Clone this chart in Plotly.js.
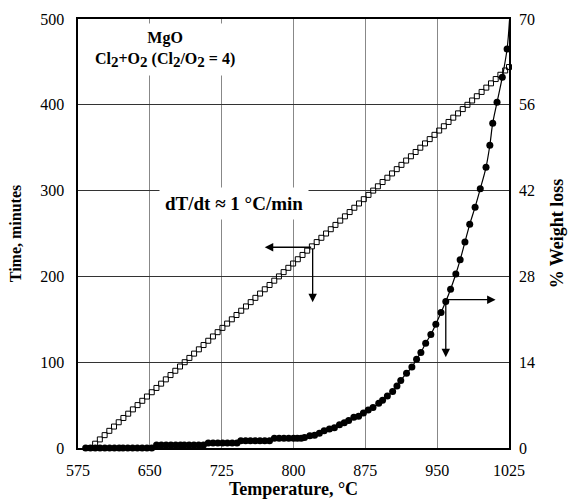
<!DOCTYPE html>
<html>
<head>
<meta charset="utf-8">
<script src="https://cdn.plot.ly/plotly-3.0.1.min.js"></script>
<style>html,body{margin:0;padding:0;background:#fff;}#chart{width:570px;height:502px;}</style>
</head>
<body>
<div id="chart"></div>
<script>
// Time series (open squares): temperature (°C) vs time (minutes)
const timeTemp = [588,592.9,597.8,602.8,607.7,612.6,617.5,622.4,627.4,632.3,637.2,642.1,647,652,656.9,661.8,666.7,671.6,676.6,681.5,686.4,691.3,696.2,701.2,706.1,711,715.9,720.8,725.8,730.7,735.6,740.5,745.4,750.4,755.3,760.2,765.1,770,775,779.9,784.8,789.7,794.6,799.6,804.5,809.4,814.3,819.2,824.2,829.1,834,838.9,843.8,848.8,853.7,858.6,863.5,868.4,873.4,878.3,883.2,888.1,893,898,902.9,907.8,912.7,917.6,922.6,927.5,932.4,937.3,942.2,947.2,952.1,957,961.9,966.8,971.8,976.7,981.6,986.5,991.4,996.4,1001.3,1006.2,1011.1,1016,1021,1025];
const timeMin = [0,5,10,15,20,25,30,35,40,45,50,55,60,65,70,75,80,85,90,95,100,105,110,115,120,125,130,135,140,145,150,155,160,165,170,175,180,185,190,195,200,205,210,215,220,225,230,235,240,245,250,255,260,265,270,275,280,285,290,295,300,305,310,315,320,325,330,335,340,345,350,355,360,365,370,375,380,385,390,395,400,405,410,415,420,425,430,435,440,444];

// Weight loss series (filled circles): temperature (°C) vs % weight loss
const wlTemp = [583,588,593,598,603,608,613,618,622,627,632,637,642,647,652,657,662,667,672,677,682,686,691,696,701,706,711,716,721,726,731,736,741,745,750,755,760,765,770,775,780,785,790,795,800,804,808,811.5,817,822,827,832,837.5,842.7,848,853,857.6,863,868,873,878,883,889,893,898,903.5,908,912,918,923.6,928.5,933,938,943.4,948.6,954,959,964,969.5,974,979,984,989.6,995,1001,1005,1008,1012.5,1018,1023,1025.5];
const wlPct = [0,0,0,0,0,0,0,0,0,0,0,0,0,0,0,0.5,0.5,0.5,0.5,0.5,0.5,0.5,0.5,0.5,0.5,0.5,0.8,0.8,0.8,0.8,0.8,0.8,0.8,1.2,1.2,1.2,1.2,1.2,1.2,1.2,1.6,1.6,1.6,1.6,1.6,1.6,1.6,1.7,2.0,2.1,2.4,2.8,3.1,3.3,3.8,4.1,4.5,5.0,5.2,5.7,6.2,6.6,7.3,7.8,8.5,9.2,10.1,11.0,12.2,13.2,14.5,15.6,17.1,18.5,20.2,22.1,23.9,25.9,28.4,30.7,33.6,36.5,39.3,42.3,45.8,49.4,53.0,56.4,60.5,65.1,69.8];

const xTicks = [575,650,725,800,875,950,1025];
const yTicks = [0,100,200,300,400,500];
const y2Ticks = [0,14,28,42,56,70];

const serif = "Liberation Serif, Times New Roman, serif";

const traces = [
  {
    x: timeTemp, y: timeMin, type: 'scatter', mode: 'markers',
    marker: {symbol: 'square-open', size: 5, color: '#000', line: {width: 1, color: '#000'}},
    cliponaxis: false, hoverinfo: 'skip'
  },
  {
    x: wlTemp, y: wlPct, type: 'scatter', mode: 'lines+markers', yaxis: 'y2',
    line: {color: '#000', width: 1.2, shape: 'spline'},
    marker: {symbol: 'circle', size: 7, color: '#000'},
    cliponaxis: false, hoverinfo: 'skip'
  }
];

const arrowStyle = {showarrow: true, arrowhead: 2, arrowsize: 1.3, arrowwidth: 1.3, arrowcolor: '#000', text: ''};
const sub2 = '<sub><span style="font-size:15px">2</span></sub>';

const layout = {
  width: 570, height: 502,
  margin: {l: 78, r: 61, t: 19, b: 54},
  paper_bgcolor: '#fff', plot_bgcolor: '#fff',
  showlegend: false,
  font: {family: serif, color: '#000', size: 15},
  xaxis: {
    range: [575, 1025], tickvals: xTicks, ticktext: xTicks.map(String),
    showgrid: true, gridcolor: '#888', gridwidth: 1,
    showline: true, linecolor: '#000', linewidth: 1.6, mirror: true,
    zeroline: false, ticks: '', ticklabelstandoff: 7,
    tickfont: {family: serif, size: 16, color: '#000'},
    title: {text: '<b>Temperature, °C</b>', font: {family: serif, size: 18, color: '#000'}, standoff: 3}
  },
  yaxis: {
    range: [0, 500], tickvals: yTicks,
    showgrid: true, gridcolor: '#333', gridwidth: 1,
    showline: true, linecolor: '#000', linewidth: 1.6, mirror: true,
    zeroline: false, ticks: '', ticklabelstandoff: 9,
    tickfont: {family: serif, size: 16, color: '#000'},
    title: {text: '<b>Time, minutes</b>', font: {family: serif, size: 16, color: '#000'}, standoff: 14}
  },
  yaxis2: {
    range: [0, 70], tickvals: y2Ticks, overlaying: 'y', side: 'right',
    showgrid: false, zeroline: false, showline: false, ticks: '', ticklabelstandoff: 9,
    tickfont: {family: serif, size: 16, color: '#000'},
    title: {text: '<b>% Weight loss</b>', font: {family: serif, size: 18, color: '#000'}, standoff: 16}
  },
  annotations: [
    {xref: 'paper', yref: 'paper', x: 0.202, y: 0.93, xanchor: 'center', yanchor: 'middle',
     text: '<b>MgO<br>Cl' + sub2 + '+O' + sub2 + ' (Cl' + sub2 + '/O' + sub2 + ' = 4)</b>',
     showarrow: false, font: {family: serif, size: 16}, bgcolor: '#fff', borderpad: 5},
    {xref: 'paper', yref: 'paper', x: 0.362, y: 0.569, xanchor: 'center', yanchor: 'middle',
     text: '<b>dT/dt ≈ 1 °C/min</b>', showarrow: false,
     font: {family: serif, size: 19}, bgcolor: '#fff', borderpad: 5},
    Object.assign({xref: 'x', yref: 'y', axref: 'x', ayref: 'y', x: 770, y: 234, ax: 820, ay: 234}, arrowStyle),
    Object.assign({xref: 'x', yref: 'y', axref: 'x', ayref: 'y', x: 820, y: 170, ax: 820, ay: 234}, arrowStyle),
    Object.assign({xref: 'x', yref: 'y2', axref: 'x', ayref: 'y2', x: 1011, y: 24.2, ax: 959, ay: 24.2}, arrowStyle),
    Object.assign({xref: 'x', yref: 'y2', axref: 'x', ayref: 'y2', x: 959, y: 14.8, ax: 959, ay: 24.2}, arrowStyle)
  ]
};

Plotly.newPlot('chart', traces, layout, {displayModeBar: false, staticPlot: true});
</script>
</body>
</html>
